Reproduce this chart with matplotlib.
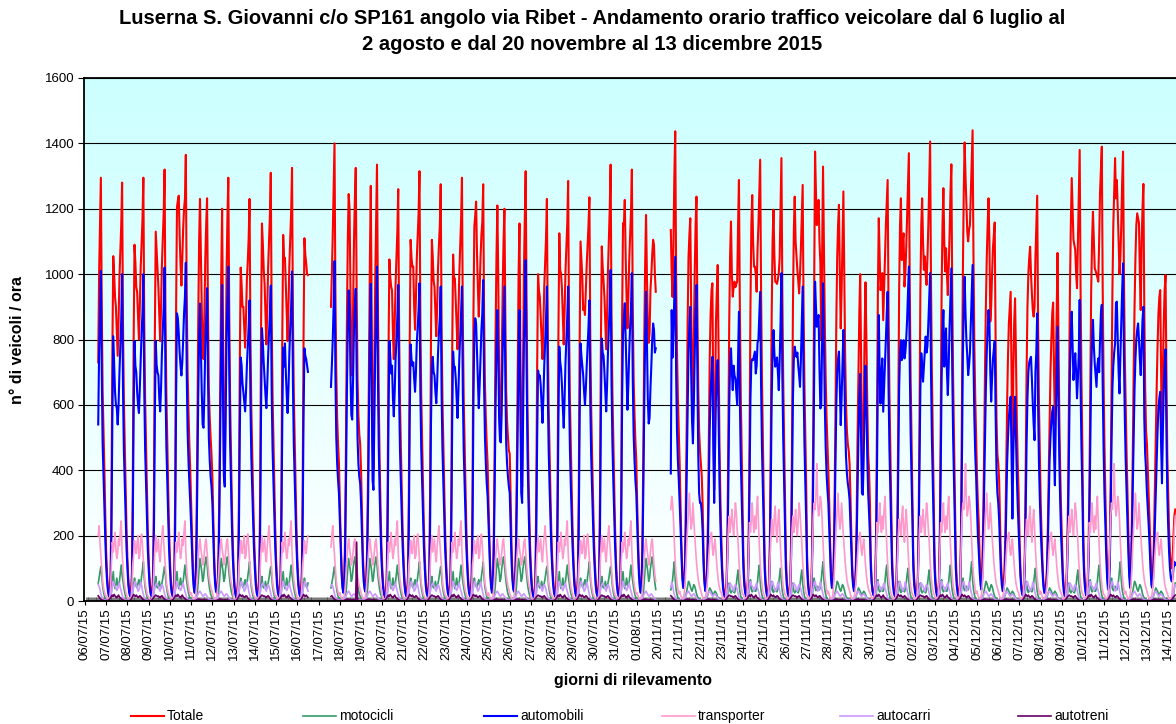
import numpy as np
import matplotlib.pyplot as plt
from matplotlib.colors import LinearSegmentedColormap
from matplotlib.lines import Line2D

plt.rcParams['font.family'] = ['Liberation Sans', 'DejaVu Sans']

N = None

giorni = ['06/07/15', '07/07/15', '08/07/15', '09/07/15', '10/07/15', '11/07/15', '12/07/15',
          '13/07/15', '14/07/15', '15/07/15', '16/07/15', '17/07/15', '18/07/15', '19/07/15',
          '20/07/15', '21/07/15', '22/07/15', '23/07/15', '24/07/15', '25/07/15', '26/07/15',
          '27/07/15', '28/07/15', '29/07/15', '30/07/15', '31/07/15', '01/08/15',
          '20/11/15', '21/11/15', '22/11/15', '23/11/15', '24/11/15', '25/11/15', '26/11/15',
          '27/11/15', '28/11/15', '29/11/15', '30/11/15', '01/12/15', '02/12/15', '03/12/15',
          '04/12/15', '05/12/15', '06/12/15', '07/12/15', '08/12/15', '09/12/15', '10/12/15',
          '11/12/15', '12/12/15', '13/12/15', '14/12/15']

# veicoli totali, una riga per giorno (ore 0-23), None = ora non rilevata
totale = [
    [N] * 15 + [730, 1000, 1150, 1295, 900, 640, 520, 400, 260],
    [150, 80, 40, 20, 25, 80, 330, 760, 1055, 1000, 930, 900, 825, 750, 855, 990, 1070, 1150, 1280, 845, 615, 475, 345, 220],
    [130, 70, 35, 20, 25, 80, 330, 785, 1090, 1035, 960, 945, 870, 800, 900, 1020, 1095, 1165, 1295, 855, 620, 480, 350, 220],
    [130, 70, 35, 20, 25, 80, 330, 815, 1130, 1075, 1018, 960, 880, 795, 900, 1030, 1110, 1190, 1320, 870, 635, 490, 355, 225],
    [130, 70, 35, 20, 25, 80, 340, 890, 1205, 1225, 1240, 1120, 1030, 965, 1045, 1140, 1200, 1230, 1365, 930, 700, 580, 480, 400],
    [300, 190, 100, 50, 30, 60, 200, 500, 850, 1100, 1230, 1060, 900, 760, 740, 880, 1050, 1150, 1232, 900, 650, 560, 500, 450],
    [380, 260, 140, 70, 40, 30, 60, 150, 380, 700, 1000, 1200, 820, 420, 390, 700, 1000, 1170, 1295, 900, 620, 450, 300, 180],
    [100, 50, 25, 15, 20, 75, 320, 735, 1020, 970, 900, 900, 835, 775, 865, 985, 1040, 1110, 1230, 810, 590, 455, 330, 210],
    [130, 70, 35, 20, 25, 80, 330, 830, 1155, 1095, 1015, 970, 880, 785, 890, 1020, 1100, 1180, 1310, 865, 630, 485, 355, 225],
    [130, 70, 35, 20, 25, 80, 330, 805, 1120, 1045, 1050, 960, 880, 795, 900, 1030, 1110, 1190, 1325, 875, 635, 490, 360, 225],
    [130, 70, 35, 20, 25, 80, 330, 800, 1110, 1060, 1033, 1000, 997] + [N] * 11,
    [N] * 14 + [900, 1000, 1120, 1260, 1400, 950, 700, 560, 480, 420],
    [300, 190, 100, 50, 30, 60, 200, 500, 850, 1100, 1245, 1200, 950, 720, 690, 900, 1100, 1230, 1325, 950, 680, 570, 510, 480],
    [400, 280, 150, 80, 45, 35, 70, 180, 420, 750, 1050, 1270, 880, 480, 405, 720, 980, 1150, 1335, 930, 620, 430, 290, 170],
    [100, 50, 25, 15, 20, 75, 320, 750, 1045, 990, 962, 950, 820, 740, 845, 970, 1050, 1130, 1260, 830, 605, 465, 340, 215],
    [130, 70, 35, 20, 25, 80, 330, 795, 1105, 1050, 1023, 1023, 900, 830, 925, 1050, 1120, 1185, 1315, 870, 630, 485, 355, 225],
    [130, 70, 35, 20, 25, 80, 330, 795, 1105, 1054, 980, 960, 885, 810, 900, 1020, 1090, 1150, 1275, 840, 610, 470, 345, 215],
    [130, 70, 35, 20, 25, 80, 330, 765, 1060, 990, 987, 920, 845, 770, 875, 1000, 1080, 1165, 1295, 855, 620, 480, 350, 220],
    [130, 70, 35, 20, 25, 80, 340, 880, 1146, 1180, 1222, 1064, 960, 870, 950, 1050, 1120, 1160, 1275, 880, 660, 560, 480, 420],
    [300, 190, 100, 50, 30, 60, 200, 480, 820, 1050, 1210, 1000, 700, 520, 495, 750, 950, 1100, 1200, 880, 640, 550, 500, 460],
    [450, 320, 170, 90, 50, 35, 70, 170, 400, 720, 1000, 1155, 800, 420, 350, 700, 1000, 1170, 1315, 920, 610, 420, 280, 170],
    [100, 50, 25, 15, 20, 75, 320, 720, 1000, 951, 930, 870, 805, 740, 840, 960, 1035, 1110, 1230, 810, 590, 455, 330, 210],
    [130, 70, 35, 20, 25, 80, 330, 810, 1125, 1013, 1000, 955, 870, 785, 885, 1010, 1085, 1155, 1285, 850, 615, 475, 345, 220],
    [130, 70, 35, 20, 25, 80, 330, 790, 1100, 1043, 990, 890, 900, 875, 950, 1030, 1090, 1150, 1235, 815, 595, 455, 335, 210],
    [130, 70, 35, 20, 25, 80, 330, 780, 1085, 1023, 980, 930, 850, 770, 880, 1010, 1100, 1200, 1335, 880, 640, 495, 360, 225],
    [130, 70, 35, 20, 25, 80, 340, 870, 1156, 1150, 1227, 1050, 930, 834, 920, 1040, 1120, 1190, 1320, 900, 680, 570, 490, 430],
    [300, 190, 100, 50, 30, 60, 200, 470, 800, 1030, 1181, 1000, 850, 790, 820, 950, 1000, 1060, 1105, 1090, 1000, 946, N, N],
    [N] * 14 + [1135, 1000, 930, 1100, 1300, 1437, 1000, 760, 620, 520],
    [420, 300, 170, 90, 50, 50, 120, 300, 550, 850, 1050, 1120, 1171, 900, 700, 600, 800, 1000, 1150, 1237, 900, 650, 520, 460],
    [420, 380, 290, 150, 70, 40, 50, 100, 250, 500, 750, 880, 950, 972, 600, 340, 600, 850, 950, 1028, 750, 480, 320, 200],
    [110, 55, 30, 20, 25, 60, 200, 500, 850, 1060, 1161, 1000, 931, 960, 977, 960, 970, 977, 1150, 1288, 900, 640, 480, 320],
    [140, 70, 35, 20, 25, 60, 200, 500, 900, 1150, 1242, 1100, 1023, 1023, 1000, 946, 1075, 1150, 1250, 1350, 950, 680, 500, 340],
    [140, 70, 35, 20, 25, 60, 200, 500, 880, 1100, 1197, 1060, 977, 975, 970, 985, 1003, 1050, 1200, 1355, 950, 680, 500, 340],
    [140, 70, 35, 20, 25, 60, 200, 500, 900, 1130, 1237, 1100, 1054, 1013, 980, 941, 1000, 1080, 1180, 1273, 900, 660, 500, 350],
    [140, 70, 35, 20, 25, 60, 220, 550, 950, 1375, 1250, 1150, 1180, 1227, 1100, 1033, 800, 1050, 1329, 1100, 850, 680, 560, 480],
    [400, 300, 180, 90, 50, 50, 120, 300, 550, 850, 1050, 1150, 1212, 1000, 834, 950, 1100, 1253, 1000, 750, 600, 520, 480, 460],
    [420, 320, 200, 110, 60, 40, 50, 100, 250, 500, 700, 880, 1000, 750, 400, 330, 600, 820, 975, 800, 600, 450, 400, 300],
    [130, 60, 30, 20, 25, 60, 220, 550, 950, 1171, 1050, 951, 980, 1003, 859, 950, 1050, 1150, 1220, 1288, 900, 640, 480, 320],
    [140, 70, 35, 20, 25, 60, 220, 550, 950, 1150, 1232, 1043, 1100, 1125, 962, 1000, 1080, 1180, 1280, 1370, 960, 680, 500, 340],
    [140, 70, 35, 20, 25, 60, 220, 550, 950, 1150, 1232, 1100, 1013, 1054, 1000, 967, 1050, 1150, 1280, 1406, 980, 700, 520, 350],
    [140, 70, 35, 20, 25, 60, 220, 550, 950, 1150, 1263, 1100, 1008, 1079, 1000, 936, 1020, 1120, 1250, 1336, 940, 680, 500, 340],
    [140, 70, 35, 20, 25, 60, 230, 600, 1000, 1250, 1403, 1300, 1212, 1130, 1100, 1135, 1150, 1250, 1350, 1440, 1050, 780, 620, 500],
    [380, 300, 237, 130, 70, 50, 100, 250, 450, 700, 900, 1050, 1150, 1232, 1100, 855, 900, 1000, 1080, 1120, 1158, 800, 560, 450],
    [420, 370, 250, 130, 70, 40, 50, 90, 200, 400, 600, 750, 850, 900, 946, 700, 400, 700, 850, 926, 750, 550, 420, 330],
    [200, 100, 50, 25, 25, 50, 150, 400, 700, 900, 1000, 1050, 1084, 1000, 940, 890, 870, 900, 1050, 1150, 1240, 850, 600, 450],
    [300, 200, 120, 60, 35, 30, 50, 100, 220, 380, 560, 700, 800, 880, 913, 700, 540, 700, 880, 1065, 800, 560, 400, 280],
    [180, 90, 45, 25, 25, 60, 150, 350, 650, 950, 1150, 1294, 1200, 1105, 1090, 1074, 1000, 957, 1100, 1250, 1380, 960, 680, 480],
    [220, 110, 50, 25, 25, 60, 150, 350, 650, 950, 1100, 1191, 1100, 1018, 1010, 1000, 990, 977, 1100, 1250, 1320, 1390, 960, 680],
    [480, 330, 200, 100, 50, 60, 150, 350, 650, 950, 1150, 1250, 1355, 1232, 1288, 1200, 1100, 1000, 1050, 1150, 1280, 1375, 1000, 750],
    [600, 450, 330, 200, 100, 60, 100, 250, 450, 700, 900, 1050, 1150, 1186, 1170, 1156, 1000, 890, 1100, 1200, 1276, 900, 650, 520],
    [480, 400, 330, 250, 150, 80, 60, 100, 200, 350, 500, 650, 780, 880, 930, 951, 700, 450, 700, 850, 950, 997, 700, 450],
    [330, 220, 150, 110, 100, 130, 200, 260, 280] + [N] * 15,
]

automobili = [
    [N] * 15 + [540, 760, 880, 1010, 700, 480, 380, 290, 190],
    [110, 60, 30, 15, 15, 50, 220, 560, 810, 720, 640, 600, 590, 540, 600, 700, 780, 860, 1000, 650, 460, 360, 260, 160],
    [100, 50, 25, 15, 15, 50, 220, 560, 795, 720, 700, 640, 600, 575, 650, 740, 820, 880, 1000, 650, 465, 360, 260, 160],
    [100, 50, 25, 15, 15, 50, 220, 560, 795, 722, 700, 690, 620, 580, 650, 760, 830, 900, 1020, 670, 475, 365, 265, 165],
    [100, 50, 25, 15, 15, 55, 230, 620, 880, 865, 820, 760, 720, 690, 730, 800, 880, 930, 1035, 700, 520, 430, 360, 300],
    [230, 150, 80, 40, 25, 45, 150, 360, 620, 800, 910, 780, 640, 540, 530, 640, 780, 870, 957, 690, 500, 430, 380, 350],
    [300, 200, 110, 55, 30, 25, 45, 110, 290, 550, 800, 967, 640, 380, 350, 560, 800, 920, 1023, 720, 490, 360, 240, 140],
    [80, 40, 20, 12, 15, 50, 215, 520, 745, 722, 666, 640, 610, 580, 640, 720, 780, 840, 920, 610, 440, 340, 250, 160],
    [100, 50, 25, 15, 15, 50, 220, 580, 835, 790, 730, 680, 630, 590, 660, 750, 820, 880, 965, 640, 465, 360, 265, 165],
    [100, 50, 25, 15, 15, 50, 220, 550, 775, 717, 788, 700, 630, 575, 650, 760, 840, 900, 1008, 670, 480, 370, 270, 170],
    [100, 50, 25, 15, 15, 50, 220, 560, 773, 750, 740, 720, 701] + [N] * 11,
    [N] * 14 + [655, 720, 800, 900, 1040, 700, 500, 420, 370, 330],
    [250, 160, 85, 40, 25, 45, 150, 370, 640, 830, 950, 900, 700, 570, 555, 680, 830, 900, 955, 700, 500, 420, 380, 360],
    [300, 210, 115, 60, 35, 28, 55, 140, 320, 570, 820, 970, 660, 370, 340, 560, 760, 880, 1023, 700, 470, 330, 220, 130],
    [75, 38, 20, 12, 15, 50, 215, 560, 795, 750, 696, 720, 620, 565, 640, 740, 800, 870, 967, 630, 460, 355, 260, 165],
    [100, 50, 25, 15, 15, 50, 220, 560, 785, 740, 720, 730, 680, 640, 700, 790, 840, 890, 972, 640, 465, 360, 265, 165],
    [100, 50, 25, 15, 15, 50, 220, 540, 717, 747, 700, 690, 640, 605, 670, 760, 820, 870, 962, 635, 460, 355, 260, 160],
    [100, 50, 25, 15, 15, 50, 220, 550, 763, 717, 717, 680, 620, 560, 640, 740, 810, 880, 962, 635, 460, 355, 260, 165],
    [100, 50, 25, 15, 15, 55, 230, 620, 820, 865, 849, 760, 680, 590, 660, 750, 830, 880, 982, 660, 500, 420, 360, 320],
    [240, 150, 80, 40, 25, 45, 150, 350, 600, 780, 890, 760, 560, 490, 485, 600, 760, 860, 962, 680, 480, 420, 380, 350],
    [330, 230, 125, 65, 35, 28, 55, 130, 300, 540, 760, 890, 600, 330, 300, 540, 780, 900, 1043, 720, 470, 320, 210, 130],
    [75, 38, 20, 12, 15, 50, 210, 500, 705, 686, 690, 660, 600, 545, 620, 720, 790, 860, 962, 635, 460, 350, 255, 160],
    [100, 50, 25, 15, 15, 50, 220, 550, 778, 732, 710, 660, 590, 530, 620, 730, 800, 870, 962, 640, 465, 355, 260, 165],
    [100, 50, 25, 15, 15, 50, 220, 560, 788, 750, 720, 690, 640, 600, 650, 720, 780, 840, 920, 610, 445, 345, 250, 160],
    [100, 50, 25, 15, 15, 50, 220, 570, 803, 760, 750, 700, 640, 580, 660, 760, 840, 910, 1013, 670, 485, 370, 270, 170],
    [100, 50, 25, 15, 15, 55, 230, 620, 814, 870, 911, 800, 700, 585, 660, 760, 840, 900, 1003, 680, 510, 430, 370, 330],
    [240, 150, 80, 40, 25, 45, 150, 350, 600, 800, 946, 800, 620, 543, 560, 650, 720, 800, 849, 830, 760, 773, N, N],
    [N] * 14 + [390, 890, 745, 820, 930, 1053, 700, 520, 430, 370],
    [300, 220, 130, 70, 40, 40, 90, 210, 400, 600, 760, 850, 900, 700, 550, 482, 600, 750, 880, 967, 712, 450, 330, 300],
    [300, 270, 210, 110, 55, 30, 40, 75, 180, 350, 530, 640, 700, 747, 480, 300, 470, 620, 700, 737, 560, 360, 240, 150],
    [85, 40, 20, 12, 15, 40, 140, 350, 600, 720, 773, 700, 645, 720, 690, 680, 640, 600, 740, 885, 620, 440, 330, 220],
    [100, 50, 25, 15, 15, 40, 140, 360, 620, 730, 740, 737, 750, 763, 696, 720, 790, 800, 870, 946, 660, 470, 350, 230],
    [100, 50, 25, 15, 15, 40, 140, 360, 620, 760, 829, 760, 717, 730, 745, 700, 645, 735, 850, 1003, 700, 500, 370, 240],
    [100, 50, 25, 15, 15, 40, 140, 360, 620, 740, 778, 760, 747, 760, 720, 690, 655, 740, 850, 962, 670, 480, 360, 240],
    [100, 50, 25, 15, 15, 40, 160, 400, 700, 977, 900, 839, 860, 875, 712, 589, 600, 800, 972, 800, 600, 470, 390, 340],
    [300, 220, 130, 70, 40, 40, 90, 220, 400, 600, 700, 740, 763, 650, 538, 620, 720, 829, 700, 540, 440, 390, 360, 340],
    [310, 230, 140, 80, 45, 30, 40, 75, 180, 350, 500, 620, 695, 500, 330, 325, 460, 600, 720, 600, 440, 330, 270, 200],
    [100, 55, 30, 18, 15, 40, 160, 400, 700, 875, 700, 604, 700, 742, 579, 650, 720, 800, 880, 946, 660, 470, 350, 230],
    [100, 50, 25, 15, 15, 40, 160, 400, 650, 760, 798, 737, 770, 798, 742, 760, 800, 860, 940, 1023, 720, 510, 380, 250],
    [100, 50, 25, 15, 15, 40, 160, 400, 650, 758, 720, 671, 717, 760, 809, 760, 780, 850, 930, 1003, 700, 500, 370, 245],
    [100, 50, 25, 15, 15, 40, 160, 400, 680, 820, 890, 717, 770, 834, 700, 630, 720, 840, 930, 1018, 710, 500, 370, 245],
    [100, 50, 25, 15, 15, 40, 170, 440, 750, 900, 992, 880, 798, 750, 691, 720, 760, 850, 940, 1028, 740, 560, 450, 380],
    [280, 200, 150, 90, 50, 35, 75, 180, 330, 500, 650, 760, 830, 890, 850, 700, 610, 680, 740, 770, 795, 580, 400, 330],
    [300, 247, 170, 90, 50, 30, 35, 60, 140, 280, 420, 500, 560, 600, 625, 450, 252, 450, 560, 625, 500, 380, 290, 220],
    [150, 80, 40, 20, 15, 35, 100, 270, 480, 620, 700, 730, 740, 747, 680, 604, 540, 492, 700, 760, 880, 600, 420, 310],
    [220, 150, 90, 45, 25, 25, 40, 75, 170, 300, 430, 500, 550, 580, 594, 450, 354, 550, 700, 839, 620, 430, 300, 200],
    [130, 65, 30, 15, 15, 40, 110, 260, 480, 700, 820, 885, 780, 676, 720, 758, 700, 620, 680, 760, 921, 660, 470, 340],
    [160, 80, 40, 20, 15, 40, 110, 260, 480, 700, 800, 860, 780, 727, 690, 655, 720, 742, 700, 800, 880, 906, 660, 470],
    [330, 230, 140, 70, 35, 40, 110, 260, 480, 650, 720, 760, 788, 911, 916, 800, 700, 635, 750, 850, 950, 1033, 750, 560],
    [430, 330, 240, 150, 75, 40, 80, 190, 350, 520, 650, 740, 800, 830, 849, 800, 740, 691, 780, 860, 900, 560, 450, 400],
    [330, 280, 230, 170, 100, 50, 40, 70, 140, 230, 330, 430, 520, 590, 620, 640, 480, 360, 520, 650, 720, 770, 520, 330],
    [230, 150, 100, 70, 60, 70, 100, 120, 110] + [N] * 15,
]

# categorie minori: andamento orario tipico letto per tipo di giornata
# L = luglio, N = novembre/dicembre; A/B/C feriali, F venerdi, S/W sabato, D domenica e festivi
transporter_tipo = {
    'LA': [12, 6, 4, 4, 8, 35, 100, 160, 200, 150, 170, 190, 140, 120, 165, 200, 230, 180, 140, 95, 60, 40, 28, 18],
    'LB': [15, 8, 5, 4, 10, 40, 120, 180, 150, 175, 210, 160, 130, 150, 190, 170, 215, 245, 150, 100, 65, 45, 30, 20],
    'LC': [10, 6, 4, 5, 9, 38, 110, 140, 185, 160, 145, 180, 200, 130, 140, 185, 205, 170, 125, 90, 55, 40, 25, 16],
    'LW': [25, 15, 8, 5, 6, 15, 40, 80, 130, 170, 190, 160, 140, 110, 120, 150, 180, 190, 150, 110, 80, 60, 45, 35],
    'NA': [15, 8, 5, 6, 12, 50, 140, 220, 260, 210, 240, 280, 230, 200, 250, 300, 270, 220, 180, 120, 80, 50, 35, 22],
    'NB': [18, 10, 6, 6, 14, 55, 150, 240, 210, 250, 300, 240, 210, 260, 220, 280, 320, 240, 170, 115, 75, 50, 32, 20],
    'NC': [14, 8, 5, 5, 12, 50, 130, 200, 250, 230, 200, 260, 290, 220, 180, 240, 280, 230, 160, 110, 70, 45, 30, 20],
    'NF': [18, 10, 6, 6, 14, 55, 160, 260, 300, 280, 330, 420, 300, 260, 280, 320, 300, 250, 180, 120, 80, 55, 35, 22],
    'NS': [30, 18, 10, 6, 6, 18, 50, 100, 170, 230, 280, 330, 260, 220, 240, 300, 250, 200, 160, 120, 90, 65, 50, 40],
    'ND': [30, 20, 10, 6, 5, 10, 25, 50, 90, 140, 180, 200, 210, 160, 140, 170, 190, 150, 110, 80, 55, 40, 30, 25],
}
transporter_tipo['LW2'] = transporter_tipo['LW']

motocicli_tipo = {
    'LA': [5, 3, 2, 2, 3, 8, 25, 55, 75, 45, 40, 45, 60, 45, 40, 55, 70, 90, 105, 75, 45, 28, 15, 8],
    'LB': [6, 3, 2, 2, 3, 10, 30, 60, 90, 50, 38, 50, 70, 50, 45, 60, 85, 110, 80, 60, 40, 25, 14, 8],
    'LC': [5, 3, 2, 2, 3, 9, 28, 50, 70, 55, 45, 40, 55, 65, 50, 50, 75, 95, 120, 70, 42, 26, 14, 8],
    'LW': [10, 5, 3, 2, 2, 4, 10, 25, 60, 100, 130, 110, 90, 60, 70, 100, 120, 135, 110, 80, 55, 35, 22, 14],
    'NA': [3, 2, 1, 1, 2, 5, 15, 40, 55, 30, 25, 30, 35, 28, 25, 35, 50, 75, 95, 55, 30, 15, 8, 5],
    'NB': [3, 2, 1, 1, 2, 6, 18, 45, 65, 35, 28, 32, 40, 30, 30, 40, 60, 90, 110, 60, 32, 18, 9, 5],
    'NC': [3, 2, 1, 1, 2, 5, 16, 42, 60, 32, 26, 35, 30, 38, 28, 36, 55, 80, 100, 58, 30, 16, 8, 5],
    'NF': [4, 2, 1, 1, 2, 6, 18, 48, 70, 40, 32, 36, 45, 35, 34, 45, 65, 95, 120, 65, 35, 20, 10, 6],
    'NS': [5, 3, 2, 1, 1, 3, 8, 18, 30, 45, 60, 55, 45, 35, 30, 40, 50, 45, 35, 22, 14, 9, 7, 6],
    'ND': [4, 2, 1, 1, 1, 3, 6, 12, 20, 30, 40, 35, 30, 22, 18, 25, 30, 26, 20, 12, 8, 5, 4, 4],
}
motocicli_tipo['LW2'] = motocicli_tipo['LW']

autocarri_a = [3, 2, 2, 2, 4, 10, 25, 40, 50, 55, 50, 45, 35, 30, 45, 50, 45, 35, 22, 12, 7, 5, 4, 3]
autocarri_b = [3, 2, 2, 3, 5, 12, 30, 45, 60, 50, 45, 40, 32, 38, 48, 55, 40, 30, 20, 10, 6, 4, 3, 3]
autocarri_c = [2, 2, 2, 2, 4, 11, 28, 42, 55, 60, 48, 42, 30, 34, 42, 58, 48, 32, 20, 11, 6, 4, 3, 2]
autocarri_festivo = [3, 2, 2, 2, 3, 5, 10, 15, 22, 28, 30, 25, 20, 15, 15, 20, 22, 18, 14, 10, 6, 4, 3, 3]
autocarri_tipo = {'LA': autocarri_a, 'LB': autocarri_b, 'LC': autocarri_c, 'LW': autocarri_festivo,
                  'LW2': autocarri_festivo, 'NA': autocarri_a, 'NB': autocarri_b, 'NC': autocarri_c,
                  'NF': autocarri_c, 'NS': autocarri_festivo, 'ND': autocarri_festivo}

autotreni_a = [2, 1, 1, 2, 4, 8, 12, 15, 18, 16, 14, 15, 12, 10, 14, 16, 12, 8, 5, 3, 2, 2, 1, 1]
autotreni_b = [1, 1, 2, 3, 6, 10, 15, 18, 14, 20, 16, 12, 10, 14, 18, 12, 10, 7, 4, 3, 2, 1, 1, 1]
autotreni_c = [1, 1, 1, 2, 5, 9, 14, 20, 16, 14, 18, 14, 11, 12, 16, 14, 9, 6, 4, 2, 2, 1, 1, 1]
autotreni_festivo = [1, 1, 1, 1, 1, 2, 3, 4, 5, 6, 5, 4, 3, 3, 4, 4, 3, 3, 2, 2, 1, 1, 1, 1]
autotreni_18_07 = [1, 1, 1, 1, 1, 2, 3, 4, 5, 6, 5, 4, 3, 3, 4, 4, 3, 3, 2, 180, 1, 1, 1, 1]
autotreni_tipo = {'LA': autotreni_a, 'LB': autotreni_b, 'LC': autotreni_c, 'LW': autotreni_festivo,
                  'LW2': autotreni_18_07, 'NA': autotreni_a, 'NB': autotreni_b, 'NC': autotreni_c,
                  'NF': autotreni_c, 'NS': autotreni_festivo, 'ND': autotreni_festivo}

tipo_giorno = ['LA', 'LB', 'LC', 'LA', 'LB', 'LW', 'LW', 'LC', 'LA', 'LB', 'LC', 'LA', 'LW2', 'LW',
               'LB', 'LC', 'LA', 'LB', 'LC', 'LW', 'LW', 'LA', 'LB', 'LC', 'LA', 'LB', 'LW',
               'NF', 'NS', 'ND', 'NA', 'NB', 'NC', 'NA', 'NF', 'NS', 'ND', 'NB', 'NC', 'NA', 'NB',
               'NF', 'NS', 'ND', 'NC', 'ND', 'NA', 'NB', 'NF', 'NS', 'ND', 'NA']


def orario(righe):
    return np.array([np.nan if v is None else v for riga in righe for v in riga], dtype=float)


tot = orario(totale)
auto = orario(automobili)
manca = np.isnan(tot)
moto = orario([motocicli_tipo[t] for t in tipo_giorno])
trans = orario([transporter_tipo[t] for t in tipo_giorno])
carri = orario([autocarri_tipo[t] for t in tipo_giorno])
treni = orario([autotreni_tipo[t] for t in tipo_giorno])
for s in (moto, trans, carri, treni):
    s[manca] = np.nan
ore = np.arange(len(tot))

serie = [
    ('Totale', tot, '#FF0000', 1.5),
    ('motocicli', moto, '#339966', 1.2),
    ('automobili', auto, '#0000FF', 1.5),
    ('transporter', trans, '#FF99CC', 1.2),
    ('autocarri', carri, '#CC99FF', 1.2),
    ('autotreni', treni, '#660066', 1.2),
]

W, H = 1176, 724
fig = plt.figure(figsize=(W / 100, H / 100), dpi=100)
ax = fig.add_axes([84 / W, 123 / H, 1094 / W, 523 / H])
x0, x1 = -1.06, 1235.1

# sfondo sfumato azzurro -> bianco
cielo = LinearSegmentedColormap.from_list('cielo', ['#FFFFFF', '#CCFFFF'])
ax.imshow(np.linspace(0, 1, 256).reshape(-1, 1), extent=[x0, x1, 0, 1600], origin='lower',
          aspect='auto', cmap=cielo, zorder=0)

for nome, y, col, lw in serie:
    ax.plot(ore, y, color=col, lw=lw, zorder=2)

ax.set_xlim(x0, x1)
ax.set_ylim(0, 1600)
ax.set_yticks(range(0, 1601, 200))
ax.yaxis.grid(True, color='black', lw=0.8)
ax.set_axisbelow(True)
ax.set_xticks(np.arange(len(giorni)) * 24)
ax.set_xticklabels(giorni, rotation=90, fontsize=9.5)
ax.set_xticks(np.arange(0, 1236), minor=True)
ax.tick_params(axis='x', which='major', length=3, direction='out', pad=2)
ax.tick_params(axis='x', which='minor', length=3, width=0.5, direction='in', color='#444444')
ax.tick_params(axis='y', length=4, direction='out', labelsize=9.5, pad=3)
for lato in ['left', 'top', 'bottom']:
    ax.spines[lato].set_linewidth(1.3)
ax.spines['right'].set_visible(False)

fig.text(592 / W, 1 - 18 / H,
         'Luserna S. Giovanni c/o SP161 angolo via Ribet - Andamento orario traffico veicolare dal 6 luglio al',
         ha='center', va='center', fontsize=14.5, weight='bold')
fig.text(592 / W, 1 - 45 / H, '2 agosto e dal 20 novembre al 13 dicembre 2015',
         ha='center', va='center', fontsize=14.5, weight='bold')
fig.text(18 / W, 1 - 340 / H, 'n° di veicoli / ora', rotation=90, ha='center', va='center',
         fontsize=11.5, weight='bold')
fig.text(633 / W, 1 - 681 / H, 'giorni di rilevamento', ha='center', va='center',
         fontsize=11.5, weight='bold')

# legenda in basso
inizio_leg = [131, 303, 484, 662, 840, 1018]
for (nome, y, col, lw), px in zip(serie, inizio_leg):
    fig.add_artist(Line2D([px / W, (px + 33) / W], [1 - 716 / H, 1 - 716 / H], color=col, lw=lw,
                          transform=fig.transFigure))
    fig.text((px + 36) / W, 1 - 716 / H, nome, ha='left', va='center', fontsize=10)

fig.savefig('out.png', dpi=100)
